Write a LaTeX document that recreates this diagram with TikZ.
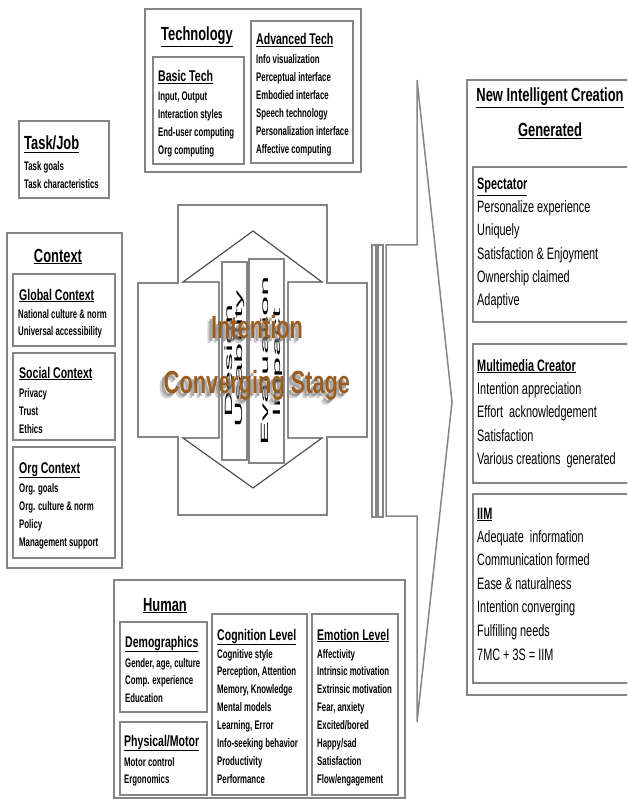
\documentclass[tikz,border=0pt]{standalone}
\usepackage{fontspec}
\setmainfont[FakeStretch=0.68]{Liberation Sans}
\newfontfamily\itmfont[FakeStretch=0.63]{Liberation Sans}
\newfontfamily\rfont[FakeStretch=0.66]{Liberation Sans}
\newfontfamily\vfont[FakeStretch=3.45]{Liberation Sans}
\definecolor{boxgray}{HTML}{858585}
\definecolor{arrowgray}{HTML}{505050}
\definecolor{brownt}{HTML}{9A5E22}
\definecolor{shadowg}{HTML}{8A8A8A}
\newcommand\rbox[5]{\node[box, anchor=north west, minimum width={(#4-#2)*1pt}, minimum height={(#5-#3)*1pt}] (#1) at (#2,#3) {};}
\begin{document}
\begin{tikzpicture}[x=1pt,y=-1pt,
  box/.style={draw=boxgray, line width=1.5pt, fill=white, outer sep=0pt, inner sep=0pt},
  shapeline/.style={draw=boxgray, line width=1.5pt, fill=white},
  darr/.style={draw=arrowgray, line width=1.2pt, fill=white},
  hdr/.style={anchor=base west, inner sep=0pt, font=\fontsize{19}{22}\selectfont\bfseries},
  hdrc/.style={hdr, anchor=base},
  sub/.style={anchor=base west, inner sep=0pt, font=\fontsize{15.5}{18}\selectfont\bfseries},
  itm/.style={anchor=base west, inner sep=0pt, font=\itmfont\fontsize{12.4}{14}\selectfont\bfseries},
  rhdr/.style={anchor=base, inner sep=0pt, font=\fontsize{19}{22}\selectfont\bfseries},
  rsub/.style={anchor=base west, inner sep=0pt, font=\rfont\fontsize{16.5}{19}\selectfont\bfseries},
  ritm/.style={anchor=base west, inner sep=0pt, font=\rfont\fontsize{16.5}{19}\selectfont},
  vt/.style={rotate=90, inner sep=0pt, font=\vfont\fontsize{10.5}{12}\selectfont},
  ovl/.style={anchor=base, inner sep=0pt, font=\fontsize{32}{36}\selectfont\bfseries}
]
\useasboundingbox (0,0) rectangle (627,799);
\clip (0,0) rectangle (627,799);

% ---------- Technology ----------
\rbox{tech}{145}{9}{361}{172}
\rbox{basic}{153}{57}{244}{164}
\rbox{adv}{251}{21}{353}{163}
\node[hdr] (techT) at (161,41) {\underline{Technology}};
\node[sub] (basicT) at (158,82) {\underline{Basic Tech}};
\foreach \t [count=\i] in {{Input, Output},Interaction styles,End-user computing,Org computing}
  \node[itm] (bt\i) at (158,{101+17.8*(\i-1)}) {\t};
\node[sub] (advT) at (256,45) {\underline{Advanced Tech}};
\foreach \t [count=\i] in {Info visualization,Perceptual interface,Embodied interface,Speech technology,Personalization interface,Affective computing}
  \node[itm] (at\i) at (256,{64+18*(\i-1)}) {\t};

% ---------- Task/Job ----------
\rbox{task}{19}{121}{109}{198}
\node[hdr] (taskT) at (24,150) {\underline{Task/Job}};
\node[itm] (tk1) at (24,171) {Task goals};
\node[itm] (tk2) at (24,189) {Task characteristics};

% ---------- Context ----------
\rbox{ctx}{7}{233}{122}{568}
\node[hdrc] (ctxT) at (58,262) {\underline{Context}};
\rbox{glob}{13}{274}{115}{346}
\node[sub] (globT) at (19,300) {\underline{Global Context}};
\node[itm] (gl1) at (18,318) {National culture \& norm};
\node[itm] (gl2) at (18,335) {Universal accessibility};
\rbox{soc}{13}{353}{115}{440}
\node[sub] (socT) at (19,378) {\underline{Social Context}};
\foreach \t [count=\i] in {Privacy,Trust,Ethics}
  \node[itm] (so\i) at (19,{397+18*(\i-1)}) {\t};
\rbox{org}{13}{447}{115}{558}
\node[sub] (orgT) at (19,473) {\underline{Org Context}};
\foreach \t [count=\i] in {Org. goals,Org. culture \& norm,Policy,Management support}
  \node[itm] (or\i) at (19,{492+18*(\i-1)}) {\t};

% ---------- Human ----------
\rbox{human}{114}{580}{405}{798}
\node[hdrc] (humT) at (165,611) {\underline{Human}};
\rbox{demo}{120}{622}{207}{712}
\node[sub] (demoT) at (125,647) {\underline{Demographics}};
\foreach \t [count=\i] in {{Gender, age, culture},Comp. experience,Education}
  \node[itm] (de\i) at (125,{667+17.6*(\i-1)}) {\t};
\rbox{phys}{120}{722}{207}{795}
\node[sub] (physT) at (124,746) {\underline{Physical/Motor}};
\node[itm] (ph1) at (124,766) {Motor control};
\node[itm] (ph2) at (124,783) {Ergonomics};
\rbox{cog}{212}{614}{307}{795}
\node[sub] (cogT) at (217,640) {\underline{Cognition Level}};
\foreach \t [count=\i] in {Cognitive style,{Perception, Attention},{Memory, Knowledge},Mental models,{Learning, Error},Info-seeking behavior,Productivity,Performance}
  \node[itm] (cg\i) at (217,{658+17.9*(\i-1)}) {\t};
\rbox{emo}{312}{614}{398}{795}
\node[sub] (emoT) at (317,640) {\underline{Emotion Level}};
\foreach \t [count=\i] in {Affectivity,Intrinsic motivation,Extrinsic motivation,{Fear, anxiety},Excited/bored,Happy/sad,Satisfaction,Flow/engagement}
  \node[itm] (em\i) at (317,{658+17.9*(\i-1)}) {\t};

% ---------- Centre cross ----------
\draw[shapeline] (178,205) -- (327,205) -- (327,283) -- (367,283) -- (367,437)
  -- (327,437) -- (327,515) -- (178,515) -- (178,437) -- (138,437) -- (138,283)
  -- (178,283) -- cycle;
\draw[darr] (219,282) -- (183,282) -- (253,231) -- (322,282) -- (288,282)
  -- (288,438) -- (322,438) -- (253,488) -- (183,438) -- (219,438) -- cycle;
\rbox{desr}{222}{262}{247}{460}
\rbox{evar}{249}{259}{284}{463}
\node[vt] (des) at (230,361) {Design};
\node[vt] (usa) at (240,359) {Usability};
\node[vt] (eva) at (265,361) {Evaluation};
\node[vt] (imp) at (278,363) {Impact};

% overlay title with shadow
\node[ovl, text=shadowg, opacity=0.4] (s1b) at (252,343) {Intention};
\node[ovl, text=shadowg, opacity=0.7] (s1) at (254,341) {Intention};
\node[ovl, text=brownt] (ov1) at (257,338) {Intention};
\node[ovl, text=shadowg, opacity=0.4] (s2b) at (252,398) {Converging Stage};
\node[ovl, text=shadowg, opacity=0.7] (s2) at (254,396) {Converging Stage};
\node[ovl, text=brownt] (ov2) at (257,393) {Converging Stage};

% ---------- Big right arrow ----------
\draw[shapeline] (386,245) -- (417,245) -- (417,80) -- (452,402) -- (417,722)
  -- (417,516) -- (386,516) -- cycle;
\draw[shapeline, line width=1.2pt] (372,245) rectangle (376,517);
\draw[shapeline, line width=1.2pt] (378,245) rectangle (383,517);

% ---------- Right panel ----------
\rbox{newc}{467}{80}{640}{695}
\node[rhdr] (newT1) at (550,102) {\underline{New Intelligent Creation}};
\node[rhdr] (newT2) at (550,137) {\underline{Generated}};
\rbox{spec}{473}{167}{640}{322}
\node[rsub] (specT) at (477,190) {\underline{Spectator}};
\foreach \t [count=\i] in {Personalize experience,Uniquely,Satisfaction \& Enjoyment,Ownership claimed,Adaptive}
  \node[ritm] (sp\i) at (477,{213+23*(\i-1)}) {\t};
\rbox{mmc}{473}{344}{640}{483}
\node[rsub] (mmcT) at (477,371) {\underline{Multimedia Creator}};
\foreach \t [count=\i] in {Intention appreciation,Effort\ \ acknowledgement,Satisfaction,Various creations\ \ generated}
  \node[ritm] (mm\i) at (477,{394+23.5*(\i-1)}) {\t};
\rbox{iim}{473}{494}{640}{683}
\node[rsub] (iimT) at (477,519) {\underline{IIM}};
\foreach \t [count=\i] in {Adequate\ \ information,Communication formed,Ease \& naturalness,Intention converging,Fulfilling needs,7MC + 3S = IIM}
  \node[ritm] (ii\i) at (477,{542+23.6*(\i-1)}) {\t};
\end{tikzpicture}
\end{document}
